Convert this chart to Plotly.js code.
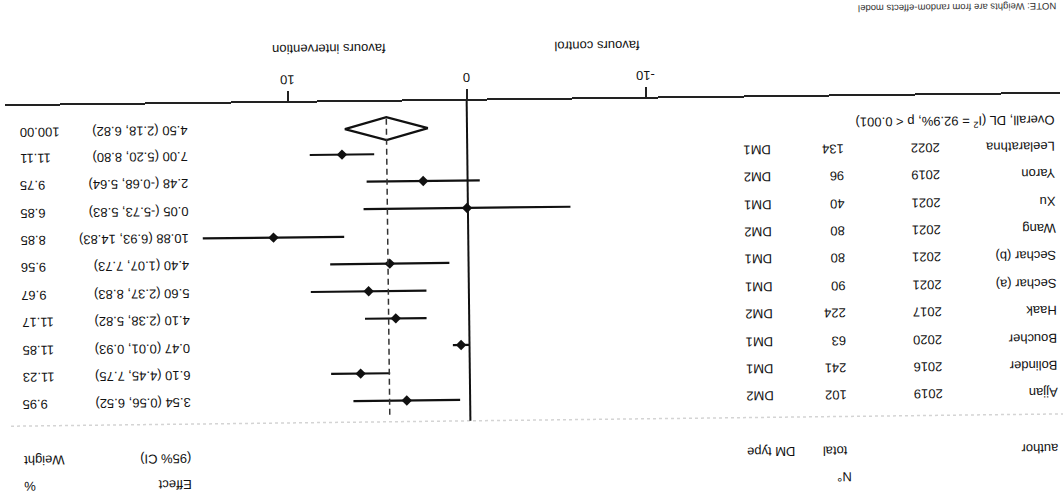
<!DOCTYPE html>
<html><head><meta charset="utf-8">
<script src="https://cdn.plot.ly/plotly-3.0.1.min.js"></script>
<style>
html,body{margin:0;padding:0;background:#fff;overflow:hidden;width:1063px;height:499px;}
#wrap{position:absolute;left:0;top:0;width:1063px;height:499px;transform:rotate(179.33deg);transform-origin:531.5px 249.5px;}
#chart{width:1063px;height:499px;}
</style></head><body><div id="wrap"><div id="chart"></div></div>
<script>
// ---- data ----
const authors = ['Ajjan','Bolinder','Boucher','Haak','Sechar (a)','Sechar (b)','Wang','Xu','Yaron','Leelarathna'];
const years   = [2019, 2016, 2020, 2017, 2021, 2021, 2021, 2021, 2019, 2022];
const totals  = [102, 241, 63, 224, 90, 80, 80, 40, 96, 134];
const dmTypes = ['DM2','DM1','DM1','DM2','DM1','DM1','DM2','DM1','DM2','DM1'];
const effects = [3.54, 6.10, 0.47, 4.10, 5.60, 4.40, 10.88, 0.05, 2.48, 7.00];
const ciLower = [0.56, 4.45, 0.01, 2.38, 2.37, 1.07, 6.93, -5.73, -0.68, 5.20];
const ciUpper = [6.52, 7.75, 0.93, 5.82, 8.83, 7.73, 14.83, 5.83, 5.64, 8.80];
const weights = [9.95, 11.23, 11.85, 11.17, 9.67, 9.56, 8.85, 6.85, 9.75, 11.11];
const overallLabel = 'Overall, DL (I<sup>2</sup> = 92.9%, p &lt; 0.001)';
const overallEffect = 4.50, overallLower = 2.18, overallUpper = 6.82, overallWeight = 100.00;
const xTickVals = [-10, 0, 10];
const headerTop = ['N°', 'Effect', '%'];
const headerBottom = ['author', 'total', 'DM type', '(95% CI)', 'Weight'];
const noteText = 'NOTE: Weights are from random-effects model';
const favoursLabels = ['favours control', 'favours intervention'];

// ---- layout constants ----
const W = 1063, H = 499, ML = 1, MR = 7, MT = 0, MB = 100;
const PW = W - ML - MR, PH = H - MT - MB;
const rowPx = 27.4, firstRowPx = 100;         // pixel position of row 0 (from top)
const zeroPx = 594.6, unitPx = 17.9;          // x pixel of 0 and px per unit
const xRange = [(ML - zeroPx) / unitPx, (ML + PW - zeroPx) / unitPx];
const yRange = [(MT + PH - firstRowPx) / rowPx, (MT - firstRowPx) / rowPx];
const px = x => (x - ML) / PW;                 // pixel -> paper x
const py = y => (MT + PH - y) / PH;            // pixel -> paper y
const overallRow = 9.93, hdrTopRow = -2.97, hdrBotRow = -2.03, sepRow = -0.77;
const diaHalf = 0.416;

const font = {family: '"Liberation Sans", Arial, Helvetica, sans-serif', size: 13, color: '#111'};
const rows = authors.map((_, i) => i);

// CI lines
const ciX = [], ciY = [];
rows.forEach(i => { ciX.push(ciLower[i], ciUpper[i], null); ciY.push(i, i, null); });

const traces = [
  {type:'scatter', mode:'lines', x: ciX, y: ciY, line:{color:'#111', width:2.2}, hoverinfo:'skip', showlegend:false},
  {type:'scatter', mode:'markers', x: effects, y: rows, marker:{symbol:'diamond', size:8, color:'#111'}, showlegend:false},
  {type:'scatter', mode:'lines', x:[overallLower, overallEffect, overallUpper, overallEffect, overallLower],
   y:[overallRow, overallRow - diaHalf, overallRow, overallRow + diaHalf, overallRow],
   line:{color:'#111', width:2.2}, showlegend:false}
];

const fmt = v => v.toFixed(2);
const ann = [];
const colAuthor = px(5), colYear = px(120), colTotal = px(216), colN = px(212), colDM = px(320), colEff = px(872), colW = px(1044);
rows.forEach(i => {
  ann.push({xref:'paper', yref:'y', x:colAuthor, y:i, text:authors[i], xanchor:'left'});
  ann.push({xref:'paper', yref:'y', x:colYear, y:i, text:String(years[i]), xanchor:'left'});
  ann.push({xref:'paper', yref:'y', x:colTotal, y:i, text:String(totals[i]), xanchor:'left'});
  ann.push({xref:'paper', yref:'y', x:colDM, y:i, text:dmTypes[i], xanchor:'right'});
  ann.push({xref:'paper', yref:'y', x:colEff, y:i, text:fmt(effects[i]) + ' (' + fmt(ciLower[i]) + ', ' + fmt(ciUpper[i]) + ')', xanchor:'left'});
  ann.push({xref:'paper', yref:'y', x:colW, y:i, text:fmt(weights[i]), xanchor:'right'});
});
ann.push({xref:'paper', yref:'y', x:colAuthor, y:overallRow, text:overallLabel, xanchor:'left'});
ann.push({xref:'paper', yref:'y', x:colEff, y:overallRow, text:fmt(overallEffect) + ' (' + fmt(overallLower) + ', ' + fmt(overallUpper) + ')', xanchor:'left'});
ann.push({xref:'paper', yref:'y', x:colW, y:overallRow, text:fmt(overallWeight), xanchor:'right'});
// headers
ann.push({xref:'paper', yref:'y', x:colN, y:hdrTopRow, text:headerTop[0], xanchor:'left'});
ann.push({xref:'paper', yref:'y', x:colEff, y:hdrTopRow, text:headerTop[1], xanchor:'left'});
ann.push({xref:'paper', yref:'y', x:colW, y:hdrTopRow, text:headerTop[2], xanchor:'right'});
ann.push({xref:'paper', yref:'y', x:colAuthor, y:hdrBotRow, text:headerBottom[0], xanchor:'left'});
ann.push({xref:'paper', yref:'y', x:colTotal, y:hdrBotRow, text:headerBottom[1], xanchor:'left'});
ann.push({xref:'paper', yref:'y', x:colDM, y:hdrBotRow, text:headerBottom[2], xanchor:'right'});
ann.push({xref:'paper', yref:'y', x:colEff, y:hdrBotRow, text:headerBottom[3], xanchor:'left'});
ann.push({xref:'paper', yref:'y', x:colW, y:hdrBotRow, text:headerBottom[4], xanchor:'right'});
// favours labels
ann.push({xref:'paper', yref:'paper', x:px(508), y:py(452), text:favoursLabels[0], xanchor:'right'});
ann.push({xref:'paper', yref:'paper', x:px(673), y:py(452), text:favoursLabels[1], xanchor:'left'});
// note
ann.push({xref:'paper', yref:'paper', x:px(2), y:py(486), text:noteText, xanchor:'left', font:{family:font.family, size:9.5, color:'#333'}});
ann.forEach(a => { a.showarrow = false; a.yanchor = 'middle'; if (!a.font) a.font = font; });

const shapes = [
  {type:'line', xref:'paper', yref:'y', x0:0, x1:1, y0:sepRow, y1:sepRow, line:{color:'#d4d4d4', width:1.5, dash:'dot'}},
  {type:'line', xref:'x', yref:'y', x0:0, x1:0, y0:sepRow, y1:yRange[0], line:{color:'#111', width:2}},
  {type:'line', xref:'x', yref:'y', x0:overallEffect, x1:overallEffect, y0:-0.51, y1:overallRow + diaHalf, line:{color:'#333', width:1.5, dash:'6px,4px'}}
];

const layout = {
  width: W, height: H,
  margin: {l:ML, r:MR, t:MT, b:MB, pad:0},
  paper_bgcolor:'#fff', plot_bgcolor:'#fff',
  showlegend:false,
  font: font,
  xaxis: {range:xRange, tickvals:xTickVals, ticktext:xTickVals.map(String), ticks:'outside', ticklen:10, tickwidth:2, tickcolor:'#222',
          showline:true, linecolor:'#222', linewidth:2, showgrid:false, zeroline:false, tickfont:font, fixedrange:true},
  yaxis: {range:yRange, visible:false, showgrid:false, zeroline:false, fixedrange:true},
  annotations: ann,
  shapes: shapes
};
Plotly.newPlot('chart', traces, layout, {staticPlot:true, displayModeBar:false});
</script>
</body></html>
